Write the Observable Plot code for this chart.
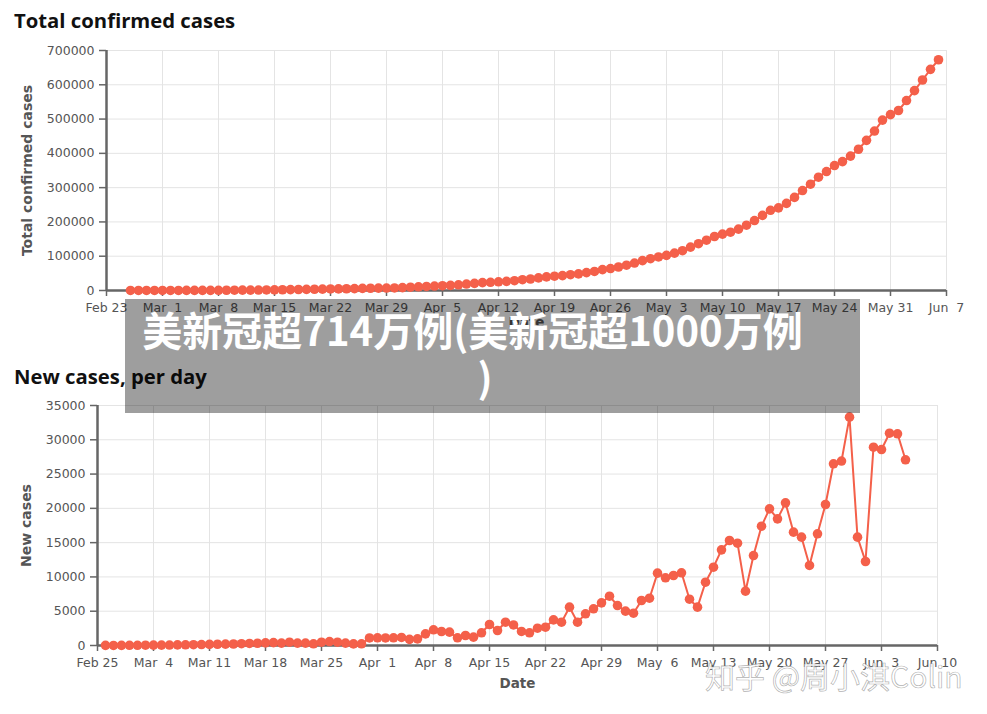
<!DOCTYPE html>
<html>
<head>
<meta charset="utf-8">
<script src="https://cdn.jsdelivr.net/npm/d3@7"></script>
<script src="https://cdn.jsdelivr.net/npm/@observablehq/plot@0.6"></script>
<style>
html,body{margin:0;padding:0;background:#fff;}
body{width:987px;height:714px;position:relative;overflow:hidden;font-family:"DejaVu Sans",sans-serif;}
.title{position:absolute;left:14px;font:700 20.3px/20px "Open Sans",sans-serif;color:#111;white-space:nowrap;}
.chart{position:absolute;left:0;}
.chart svg{overflow:visible;}
.chart svg text{white-space:pre;}
#banner{position:absolute;left:125px;top:299px;width:735px;height:114px;background:rgba(0,0,0,0.38);z-index:5;}
.bline{position:absolute;font:700 40px/47px "Noto Sans CJK SC",sans-serif;color:#fff;text-align:center;white-space:nowrap;}
#wm{position:absolute;left:705px;top:660px;font:400 30px/30px "Noto Sans CJK SC",sans-serif;color:rgba(255,255,255,0.88);-webkit-text-stroke:0.7px rgba(110,110,110,0.55);white-space:nowrap;z-index:6;}
</style>
</head>
<body>
<div class="title" id="t1" style="top:10px">Total confirmed cases</div>
<div class="chart" id="c1" style="top:40px"></div>
<div class="title" id="t2" style="top:366px">New cases, per day</div>
<div class="chart" id="c2" style="top:395px"></div>
<div id="banner">
  <div class="bline" style="left:-4px;top:7px;width:703px">美新冠超714万例(美新冠超1000万例</div>
  <div class="bline" style="left:0;top:54px;width:720px">)</div>
</div>
<div id="wm">知乎 @周小淇Colin</div>
<script>
// ---- data ----
const totalStart = "2020-02-26";
const totalCases = [
  60,80,90,110,140,170,210,260,320,390,
  480,580,700,840,1000,1180,1380,1600,1860,2160,
  2490,2870,3290,3640,4120,4460,4800,5050,5530,6110,
  6590,6930,7170,7420,8520,9640,10740,11860,13030,13930,
  14880,16580,18870,20910,22860,23980,25440,26660,28510,31570,
  33500,36800,39700,41700,43500,46000,48600,52200,55500,61000,
  64000,68500,73800,80000,87000,92800,97800,102500,109000,116000,
  126500,136500,146700,157500,164500,170000,179000,190500,204000,219000,
  234000,241000,254000,271500,291500,310000,330500,347000,364500,376000,
  392000,412000,438000,465000,497000,513000,525000,554000,583000,614000,
  645000,673000
];
const newStart = "2020-02-26";
const newCases = [
  20,10,20,30,30,40,50,60,70,90,
  100,120,140,160,180,200,220,260,300,330,
  380,420,350,480,340,340,250,480,580,480,
  340,240,250,1100,1120,1100,1120,1170,900,970,
  1700,2290,2040,1950,1120,1460,1220,1850,3060,2190,
  3400,3000,2050,1850,2520,2670,3740,3400,5590,3400,
  4620,5350,6220,7190,5830,5010,4710,6560,6900,10550,
  9870,10210,10600,6750,5590,9230,11420,13950,15310,14920,
  7920,13120,17400,19930,18470,20800,16530,15800,11670,16290,
  20560,26500,26900,33300,15800,12250,28920,28580,30960,30870,
  27080
];
const topTickStart = "2020-02-23";
const topTickLabels = ["Feb 23","Mar  1","Mar  8","Mar 15","Mar 22","Mar 29","Apr  5","Apr 12","Apr 19","Apr 26","May  3","May 10","May 17","May 24","May 31","Jun  7"];
const bottomTickStart = "2020-02-25";
const bottomTickLabels = ["Feb 25","Mar  4","Mar 11","Mar 18","Mar 25","Apr  1","Apr  8","Apr 15","Apr 22","Apr 29","May  6","May 13","May 20","May 27","Jun  3","Jun 10"];
const topYTicks = [0,100000,200000,300000,400000,500000,600000,700000];
const bottomYTicks = [0,5000,10000,15000,20000,25000,30000,35000];
const topYLabel = "Total confirmed cases";
const bottomYLabel = "New cases";
const xLabel = "Date";

// ---- drawing ----
const color = "#f4604a";
const day = s => new Date(s + "T00:00:00Z");

function makeChart(o) {
  const t0 = day(o.start);
  const data = o.values.map((v, i) => ({date: d3.utcDay.offset(t0, i), value: v}));
  const ticks = o.tickLabels.map((_, i) => d3.utcDay.offset(day(o.tickStart), 7 * i));
  const labelMap = new Map(ticks.map((t, i) => [+t, o.tickLabels[i]]));
  const yMax = o.yTicks[o.yTicks.length - 1];
  return Plot.plot({
    width: 987, height: o.height,
    marginTop: o.marginTop, marginBottom: o.marginBottom,
    marginLeft: o.marginLeft, marginRight: o.marginRight,
    style: {fontFamily: "DejaVu Sans", fontSize: "12.5px", color: "#555", background: "transparent", overflow: "visible"},
    x: {type: "utc", domain: [ticks[0], ticks[ticks.length - 1]]},
    y: {domain: [0, yMax]},
    marks: [
      Plot.gridX(ticks, {stroke: "#e4e4e4", strokeOpacity: 1, strokeWidth: 1}),
      Plot.gridY(o.yTicks, {stroke: "#e4e4e4", strokeOpacity: 1, strokeWidth: 1}),
      Plot.axisX(ticks, {tickSize: 6, tickPadding: 7, stroke: "#666", fill: "#555", strokeWidth: 1.5,
        tickFormat: d => labelMap.get(+d), label: null, fontSize: 12.5}),
      Plot.axisY(o.yTicks, {tickSize: 7, tickPadding: 5, stroke: "#666", fill: "#555", strokeWidth: 1.5,
        tickFormat: d => String(d), label: null, fontSize: 12.5}),
      Plot.ruleX([ticks[0]], {stroke: "#666", strokeWidth: 2.5}),
      Plot.ruleY([0], {stroke: "#666", strokeWidth: 2.5}),
      Plot.line(data, {x: "date", y: "value", stroke: color, strokeWidth: 2}),
      Plot.dot(data, {x: "date", y: "value", fill: color, r: 4.8}),
      Plot.text([o.yLabel], {text: d => d, frameAnchor: "left", textAnchor: "middle", rotate: -90, dx: o.yLabelDx,
        fontWeight: "bold", fontSize: 14, fill: "#555"}),
      Plot.text([xLabel], {text: d => d, frameAnchor: "bottom", textAnchor: "middle", dy: o.xLabelDy,
        fontWeight: "bold", fontSize: 13.5, fill: "#555"})
    ]
  });
}

document.getElementById("c1").append(makeChart({
  values: totalCases, start: totalStart, tickStart: topTickStart, tickLabels: topTickLabels,
  yTicks: topYTicks, yLabel: topYLabel,
  height: 300, marginTop: 10, marginBottom: 50, marginLeft: 106, marginRight: 41,
  yLabelDx: -78.5, xLabelDy: 36
}));
document.getElementById("c2").append(makeChart({
  values: newCases, start: newStart, tickStart: bottomTickStart, tickLabels: bottomTickLabels,
  yTicks: bottomYTicks, yLabel: bottomYLabel,
  height: 319, marginTop: 10, marginBottom: 69, marginLeft: 97, marginRight: 50,
  yLabelDx: -71, xLabelDy: 42
}));
</script>
</body>
</html>
